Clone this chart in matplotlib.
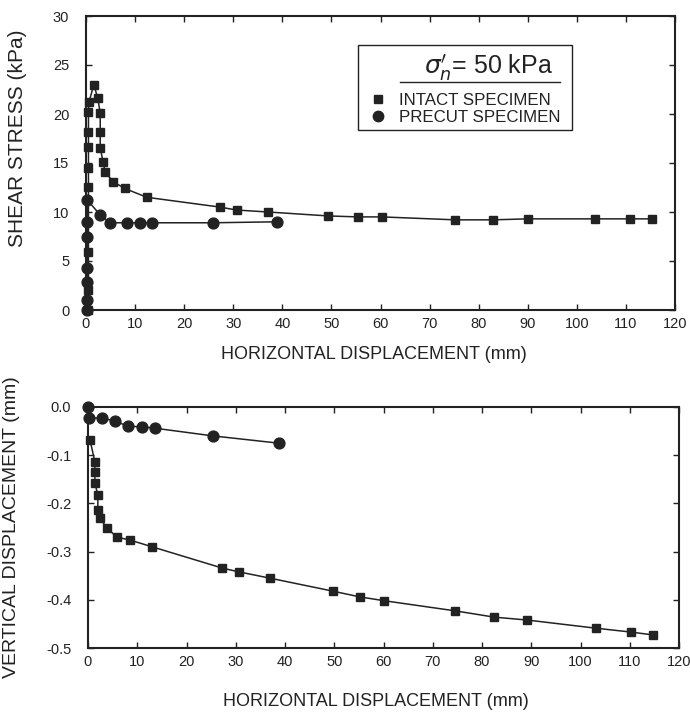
import matplotlib
matplotlib.use("Agg")
import matplotlib.pyplot as plt
from matplotlib.lines import Line2D
from matplotlib.patches import Rectangle

plt.rcParams['font.family'] = ['Liberation Sans', 'DejaVu Sans']
plt.rcParams['axes.unicode_minus'] = False

# shear stress vs horizontal displacement
intact_x = [0.5, 0.5, 0.5, 0.5, 0.5, 0.5, 0.5, 0.5, 0.6, 1.6, 2.4, 2.9, 2.9, 2.9, 3.5, 3.9,
            5.5, 7.9, 12.4, 27.3, 30.7, 37.1, 49.3, 55.4, 60.3, 75.2, 82.9, 90.0, 103.7,
            110.8, 115.3]
intact_tau = [0.0, 2.0, 5.9, 12.6, 14.5, 16.6, 18.2, 20.2, 21.2, 23.0, 21.6, 20.1, 18.2, 16.5,
              15.1, 14.1, 13.1, 12.4, 11.5, 10.5, 10.2, 10.0, 9.6, 9.5, 9.5, 9.2, 9.2, 9.3,
              9.3, 9.3, 9.3]
precut_x = [0.3, 0.3, 0.3, 0.3, 0.3, 0.3, 0.3, 2.9, 4.9, 8.4, 11.0, 13.4, 25.8, 38.9]
precut_tau = [0.0, 1.0, 2.9, 4.3, 7.5, 9.0, 11.2, 9.7, 8.9, 8.9, 8.9, 8.9, 8.9, 9.0]

# vertical displacement vs horizontal displacement
intact_vx = [0.4, 1.4, 1.4, 1.4, 2.0, 2.0, 2.4, 3.8, 5.9, 8.5, 13.0, 27.2, 30.6, 36.9,
             49.7, 55.2, 60.2, 74.6, 82.5, 89.2, 103.2, 110.3, 114.8]
intact_v = [-0.068, -0.114, -0.135, -0.158, -0.183, -0.214, -0.230, -0.251, -0.270,
            -0.276, -0.290, -0.334, -0.342, -0.355, -0.382, -0.394, -0.402, -0.423,
            -0.436, -0.442, -0.459, -0.467, -0.473]
precut_vx = [0.0, 0.3, 2.8, 5.5, 8.1, 11.0, 13.6, 25.4, 38.7]
precut_v = [0.0, -0.023, -0.023, -0.029, -0.040, -0.041, -0.044, -0.060, -0.075]

labels = ['INTACT SPECIMEN', 'PRECUT SPECIMEN']
ink = '#222222'
sq = dict(color=ink, lw=1.1, marker='s', ms=6.3, clip_on=False)
ci = dict(color=ink, lw=1.1, marker='o', ms=7.8, clip_on=False)

fig = plt.figure(figsize=(6.9, 7.14), dpi=100)
ax1 = fig.add_axes([86/690, 1-310/714, 589/690, 294/714])
ax2 = fig.add_axes([88/690, 1-648/714, 591/690, 241/714])

ax1.plot(intact_x, intact_tau, zorder=3, **sq)
ax1.plot(precut_x, precut_tau, zorder=3, **ci)
ax2.plot(intact_vx, intact_v, zorder=3, **sq)
ax2.plot(precut_vx, precut_v, zorder=3, **ci)

ax1.set_ylim(0, 30)
ax1.set_yticks(range(0, 31, 5))
ax2.set_ylim(-0.5, 0)
ax2.set_yticks([0.0, -0.1, -0.2, -0.3, -0.4, -0.5])
ax2.set_yticklabels(['0.0', '-0.1', '-0.2', '-0.3', '-0.4', '-0.5'])

for ax in (ax1, ax2):
    ax.set_xlim(0, 120)
    ax.set_xticks(range(0, 121, 10))
    ax.tick_params(direction='in', top=True, right=True, length=4, width=1,
                   colors=ink, labelsize=10.5)
    ax.tick_params(axis='x', pad=5)
    ax.tick_params(axis='y', pad=12)
    for s in ax.spines.values():
        s.set_linewidth(1.5)
        s.set_color(ink)
    ax.set_xlabel('HORIZONTAL DISPLACEMENT (mm)', fontsize=13, color=ink, va='center')

ax1.xaxis.set_label_coords(0.489, -0.150)
ax2.xaxis.set_label_coords(0.487, -0.224)
ax1.set_ylabel('SHEAR STRESS (kPa)', fontsize=15, color=ink, va='center')
ax1.yaxis.set_label_coords(-0.117, 0.585)
ax2.set_ylabel('VERTICAL DISPLACEMENT (mm)', fontsize=14, color=ink, va='center')
ax2.yaxis.set_label_coords(-0.129, 0.50)

# legend box with underlined title
ax1.add_patch(Rectangle((0.4618, 0.6122), 0.3633, 0.2891, transform=ax1.transAxes,
                        fill=True, facecolor='white', edgecolor=ink, lw=1.0, zorder=4))
ax1.text(0.684, 0.8265, r"$\sigma_n'$= 50 kPa", transform=ax1.transAxes, fontsize=18,
         color=ink, ha='center', va='center', zorder=5)
ax1.plot([0.533, 0.805], [0.7755, 0.7755], transform=ax1.transAxes, color=ink, lw=1.0,
         zorder=5)
handles = [Line2D([], [], ls='none', marker='s', ms=6, color=ink),
           Line2D([], [], ls='none', marker='o', ms=7.5, color=ink)]
leg = ax1.legend(handles, labels, loc='center left', bbox_to_anchor=(0.482, 0.684),
                 frameon=False, fontsize=12.2, borderpad=0, borderaxespad=0,
                 handlelength=1.0, handletextpad=0.7, labelspacing=0.1)
leg.set_zorder(6)
for t in leg.get_texts():
    t.set_color(ink)

fig.savefig('out.png', dpi=100)
